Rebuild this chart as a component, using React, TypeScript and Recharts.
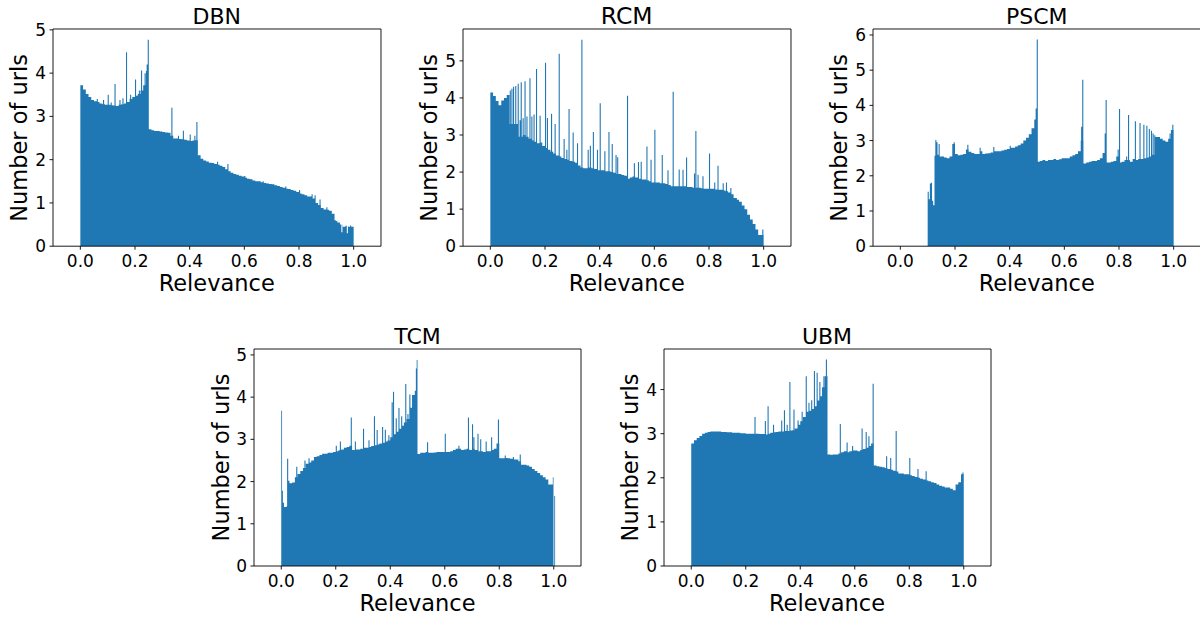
import React from 'react';
import { AreaChart, Area, XAxis, YAxis, ReferenceLine } from 'recharts';

const FONT = '"DejaVu Sans", sans-serif';
const BLUE = '#1f77b4';

const xTicks = [0, 0.2, 0.4, 0.6, 0.8, 1.0];
const titles = ['DBN', 'RCM', 'PSCM', 'TCM', 'UBM'];
const xLabel = 'Relevance';
const yLabel = 'Number of urls';

// Base histogram heights, bins of width 0.01 from 0.00 to 0.99
const dbnBase = [
  3.72, 3.62, 3.52, 3.45, 3.38, 3.35, 3.33, 3.30, 3.28, 3.27,
  3.27, 3.26, 3.25, 3.24, 3.27, 3.28, 3.30, 3.33, 3.40, 3.45,
  3.48, 3.52, 3.60, 3.72, 4.05, 2.70, 2.68, 2.66, 2.66, 2.65,
  2.64, 2.63, 2.62, 2.55, 2.49, 2.49, 2.48, 2.47, 2.46, 2.44,
  2.43, 2.44, 2.45, 2.10, 2.02, 1.98, 1.96, 1.93, 1.92, 1.90,
  1.88, 1.86, 1.83, 1.78, 1.73, 1.70, 1.67, 1.65, 1.63, 1.61,
  1.58, 1.56, 1.55, 1.52, 1.50, 1.50, 1.48, 1.46, 1.45, 1.44,
  1.43, 1.41, 1.39, 1.37, 1.35, 1.33, 1.32, 1.30, 1.28, 1.25,
  1.22, 1.20, 1.18, 1.15, 1.15, 1.10, 1.00, 0.95, 0.88, 0.85,
  0.84, 0.82, 0.75, 0.60, 0.55, 0.50, 0.45, 0.47, 0.45, 0.45,
];
const dbnSpikes = [
  [0.06, 3.4], [0.083, 3.38], [0.1, 3.5], [0.111, 3.32], [0.125, 3.75], [0.143, 3.38],
  [0.154, 3.42], [0.167, 4.48], [0.182, 3.5], [0.2, 3.85], [0.214, 3.6], [0.222, 4.06],
  [0.235, 4.0], [0.2425, 4.2], [0.2465, 4.77], [0.333, 3.2], [0.357, 2.55], [0.375, 2.67],
  [0.4, 2.58], [0.417, 2.55], [0.4245, 2.87], [0.5, 1.95], [0.538, 1.9], [0.6, 1.62],
  [0.667, 1.5], [0.75, 1.38], [0.8, 1.3], [0.846, 1.2], [0.857, 1.18], [0.875, 1.08],
  [0.9, 0.9], [0.935, 0.58], [0.955, 0.32], [0.975, 0.3], [0.987, 0.48],
];

const rcmBase = [
  4.15, 4.05, 3.92, 3.80, 3.93, 4.00, 4.08, 3.30, 3.30, 3.30,
  2.95, 2.95, 3.00, 2.95, 2.90, 2.85, 2.82, 2.78, 2.80, 2.70,
  2.65, 2.60, 2.55, 2.50, 2.45, 2.42, 2.38, 2.35, 2.33, 2.30,
  2.28, 2.25, 2.18, 2.12, 2.10, 2.10, 2.12, 2.10, 2.08, 2.05,
  2.05, 2.05, 2.02, 2.02, 2.00, 1.98, 1.95, 1.95, 1.92, 1.90,
  1.82, 1.85, 1.88, 1.85, 1.82, 1.80, 1.80, 1.78, 1.75, 1.72,
  1.72, 1.72, 1.70, 1.70, 1.68, 1.65, 1.62, 1.62, 1.62, 1.62,
  1.62, 1.62, 1.60, 1.60, 1.58, 1.58, 1.58, 1.56, 1.55, 1.55,
  1.55, 1.55, 1.53, 1.52, 1.52, 1.50, 1.48, 1.45, 1.40, 1.30,
  1.25, 1.20, 1.10, 1.00, 0.85, 0.72, 0.60, 0.45, 0.30, 0.30,
];
const rcmSpikes = [
  [0.071, 4.2], [0.077, 4.25], [0.083, 4.3], [0.091, 4.32], [0.1, 4.38], [0.111, 4.42],
  [0.125, 4.45], [0.143, 4.53], [0.167, 4.78], [0.2, 4.95], [0.25, 5.19], [0.333, 5.57],
  [0.107, 3.4], [0.118, 3.45], [0.132, 3.5], [0.15, 3.5], [0.158, 3.55], [0.18, 3.52],
  [0.207, 3.46], [0.222, 3.57], [0.235, 3.3], [0.268, 2.89], [0.278, 2.6], [0.286, 3.7],
  [0.301, 3.07], [0.317, 2.78], [0.356, 2.6], [0.364, 2.71], [0.375, 3.08], [0.39, 2.6],
  [0.4, 3.86], [0.417, 2.56], [0.432, 3.08], [0.444, 2.76], [0.458, 2.46], [0.464, 2.4],
  [0.5, 4.06], [0.525, 2.24], [0.54, 2.27], [0.55, 2.28], [0.571, 2.69], [0.586, 2.33],
  [0.6, 3.14], [0.627, 2.46], [0.648, 2.05], [0.667, 4.17], [0.689, 2.07], [0.703, 2.06],
  [0.716, 2.39], [0.745, 1.96], [0.75, 3.11], [0.758, 1.93], [0.776, 1.89], [0.8, 2.5],
  [0.819, 1.72], [0.831, 2.17], [0.85, 1.7], [0.862, 1.72], [0.878, 1.57], [0.898, 1.3],
  [0.995, 0.45],
];

const pscmBase = [
  0, 0, 0, 0, 0, 0, 0, 0, 0, 0,
  1.55, 1.70, 1.16, 2.60, 2.55, 2.55, 2.52, 2.50, 2.55, 2.90,
  2.62, 2.58, 2.60, 2.62, 2.75, 2.68, 2.65, 2.62, 2.62, 2.70,
  2.62, 2.63, 2.64, 2.66, 2.70, 2.70, 2.70, 2.72, 2.74, 2.76,
  2.80, 2.80, 2.83, 2.87, 2.92, 3.00, 3.08, 3.18, 3.35, 3.60,
  2.40, 2.42, 2.45, 2.42, 2.45, 2.45, 2.48, 2.45, 2.47, 2.50,
  2.50, 2.50, 2.55, 2.58, 2.62, 2.70, 3.00, 2.35, 2.38, 2.40,
  2.42, 2.42, 2.45, 2.50, 2.65, 2.38, 2.38, 2.40, 2.42, 2.55,
  2.38, 2.40, 2.45, 2.45, 2.40, 2.48, 2.45, 2.48, 2.48, 2.50,
  2.52, 2.55, 2.60, 3.10, 3.10, 3.05, 3.00, 2.97, 3.05, 3.30,
];
const pscmSpikes = [
  [0.104, 1.33, 0.004], [0.108, 1.78, 0.004], [0.112, 1.8, 0.004], [0.116, 1.29, 0.004],
  [0.125, 2.57, 0.003], [0.128, 3.02], [0.132, 2.95], [0.14, 2.9], [0.195, 2.95],
  [0.245, 2.88], [0.29, 2.8], [0.34, 2.82], [0.4, 2.85], [0.495, 3.91], [0.499, 5.87],
  [0.6615, 3.39], [0.6655, 4.73], [0.7475, 3.2], [0.751, 4.15], [0.795, 2.75], [0.8, 3.9],
  [0.826, 2.55], [0.833, 3.73], [0.858, 3.55], [0.875, 3.5], [0.889, 3.45], [0.9, 3.42],
  [0.909, 3.33], [0.917, 3.28], [0.923, 3.2], [0.929, 3.15], [0.985, 3.2], [0.995, 3.45],
];

const tcmBase = [
  1.50, 1.40, 1.42, 1.96, 1.98, 2.10, 2.18, 2.25, 2.32, 2.42,
  2.45, 2.50, 2.58, 2.60, 2.63, 2.66, 2.66, 2.68, 2.68, 2.70,
  2.72, 2.74, 2.76, 2.80, 2.82, 2.85, 2.75, 2.76, 2.76, 2.78,
  2.80, 2.80, 2.82, 2.84, 2.86, 2.88, 2.90, 2.92, 2.95, 2.97,
  3.05, 3.12, 3.18, 3.25, 3.32, 3.40, 3.48, 3.75, 4.05, 4.15,
  2.65, 2.68, 2.68, 2.70, 2.68, 2.68, 2.69, 2.70, 2.70, 2.70,
  2.70, 2.70, 2.72, 2.75, 2.78, 2.78, 2.75, 2.76, 2.78, 2.75,
  2.78, 2.75, 2.72, 2.72, 2.70, 2.72, 2.72, 2.75, 2.78, 2.90,
  2.55, 2.55, 2.56, 2.55, 2.54, 2.52, 2.52, 2.48, 2.40, 2.40,
  2.38, 2.35, 2.30, 2.25, 2.20, 2.15, 2.10, 2.05, 1.93, 1.93,
];
const tcmSpikes = [
  [0.0, 3.68, 0.003], [0.003, 1.78, 0.003], [0.006, 1.5, 0.004], [0.0215, 2.54], [0.0255, 2.02, 0.0045],
  [0.055, 2.35], [0.085, 2.5], [0.1, 2.55], [0.2, 2.85], [0.215, 2.95], [0.255, 3.52],
  [0.27, 2.95], [0.3, 3.25], [0.32, 2.98], [0.34, 3.55], [0.35, 3.22], [0.37, 3.29],
  [0.38, 3.23], [0.393, 3.1], [0.405, 3.88], [0.41, 4.13], [0.42, 3.5], [0.43, 3.74],
  [0.44, 3.55], [0.455, 4.31], [0.463, 3.6], [0.47, 4.06], [0.494, 4.68, 0.003],
  [0.497, 4.88, 0.003], [0.535, 2.93], [0.6, 3.13], [0.65, 2.85], [0.685, 3.52],
  [0.7, 3.36], [0.705, 3.05], [0.72, 3.13], [0.73, 3.0], [0.75, 2.95], [0.77, 3.05],
  [0.795, 3.47], [0.82, 2.62], [0.85, 2.58], [0.875, 2.64], [0.9965, 2.1, 0.0025],
  [0.999, 0, 0.003], [1.002, 1.66, 0.003],
];

const ubmBase = [
  2.78, 2.85, 2.90, 2.95, 3.00, 3.02, 3.04, 3.05, 3.05, 3.05,
  3.05, 3.04, 3.04, 3.03, 3.03, 3.02, 3.02, 3.02, 3.01, 3.01,
  3.00, 3.00, 3.00, 3.00, 3.00, 2.99, 2.99, 2.98, 3.00, 3.02,
  3.03, 3.04, 3.05, 3.05, 3.06, 3.06, 3.07, 3.08, 3.12, 3.20,
  3.28, 3.38, 3.50, 3.52, 3.56, 3.62, 3.75, 3.85, 4.05, 4.30,
  2.53, 2.52, 2.53, 2.53, 2.55, 2.58, 2.60, 2.58, 2.60, 2.62,
  2.62, 2.60, 2.63, 2.65, 2.68, 2.72, 2.78, 2.28, 2.26, 2.25,
  2.24, 2.22, 2.20, 2.18, 2.16, 2.14, 2.10, 2.10, 2.08, 2.08,
  2.06, 2.04, 2.02, 2.00, 1.98, 1.96, 1.94, 1.92, 1.90, 1.88,
  1.85, 1.82, 1.80, 1.78, 1.78, 1.75, 1.72, 1.85, 1.90, 2.08,
];
const ubmSpikes = [
  [0.232, 3.38], [0.27, 3.29], [0.28, 3.62], [0.3, 3.2], [0.33, 3.3], [0.34, 3.53],
  [0.35, 3.2], [0.36, 4.17], [0.375, 3.55], [0.39, 3.3], [0.405, 3.5], [0.42, 4.3],
  [0.43, 3.7], [0.44, 3.76], [0.45, 4.42], [0.46, 4.38], [0.47, 4.17], [0.485, 4.3],
  [0.494, 4.68], [0.545, 3.22], [0.57, 2.8], [0.59, 2.72], [0.625, 3.12], [0.64, 3.04],
  [0.65, 2.94], [0.6655, 4.13], [0.715, 2.49], [0.73, 2.45], [0.75, 3.06], [0.8, 2.45],
  [0.83, 2.2], [0.86, 2.15], [0.995, 2.12],
];

const yMaxes = [5.02, 5.86, 6.17, 5.14, 4.92];
const yTickSets = [
  [0, 1, 2, 3, 4, 5],
  [0, 1, 2, 3, 4, 5],
  [0, 1, 2, 3, 4, 5, 6],
  [0, 1, 2, 3, 4, 5],
  [0, 1, 2, 3, 4],
];

type Pt = { x: number; y: number };

// Builds a step outline: base bins plus narrow spike bins that override them.
function buildSeries(base: number[], spikes: number[][]): Pt[] {
  const r = (v: number) => Math.round(v * 1e6) / 1e6;
  const baseAt = (x: number) => {
    const i = Math.floor(x * 100 + 1e-7);
    return i >= 0 && i < base.length ? base[i] : 0;
  };
  const sorted = [...spikes].sort((a, b) => a[0] - b[0]);
  const intervals = sorted.map((s, k) => {
    const w = s[2] !== undefined ? s[2] : 0.004;
    const x0 = r(s[0]);
    let x1 = r(s[0] + w);
    const next = sorted[k + 1];
    if (next && r(next[0]) < x1) x1 = r(next[0]);
    return { x0, x1, y: s[1] };
  });
  // edges where the value changes
  const edges = new Set<number>();
  for (let i = 0; i <= base.length; i++) edges.add(r(i / 100));
  intervals.forEach((iv) => {
    edges.add(iv.x0);
    edges.add(iv.x1);
  });
  const xs = Array.from(edges).sort((a, b) => a - b);
  const valueAt = (x: number) => {
    for (const iv of intervals) {
      if (x >= iv.x0 - 1e-9 && x < iv.x1 - 1e-9) return iv.y;
    }
    return baseAt(x);
  };
  const pts: Pt[] = xs.map((x) => ({ x, y: valueAt(x) }));
  const last = pts[pts.length - 1];
  if (last.y !== 0) pts.push({ x: r(last.x + 1e-6), y: 0 });
  return pts;
}

const series = [
  buildSeries(dbnBase, dbnSpikes),
  buildSeries(rcmBase, rcmSpikes),
  buildSeries(pscmBase, pscmSpikes),
  buildSeries(tcmBase, tcmSpikes),
  buildSeries(ubmBase, ubmSpikes),
];

// plot boxes: left, top, width, height
const boxes = [
  [52.7, 29.3, 328, 217.2],
  [462.7, 29.3, 328, 217.2],
  [872.7, 29.3, 328, 217.2],
  [254, 349, 327, 217],
  [663.5, 349, 327, 217],
];
const titleSizes = [22, 23.5, 22, 22, 22];

const ML = 60;
const MT = 10;

function Panel({ idx }: { idx: number }) {
  const [L, T, W, H] = boxes[idx];
  const ymax = yMaxes[idx];
  return (
    <div style={{ position: 'absolute', left: L - ML, top: T - MT }}>
      <AreaChart
        width={W + ML + 10}
        height={H + MT + 30}
        data={series[idx]}
        margin={{ top: MT, right: 10, left: 0, bottom: 0 }}
      >
        <XAxis
          type="number"
          dataKey="x"
          domain={[-0.1, 1.1]}
          allowDataOverflow
          ticks={xTicks}
          interval={0}
          tickFormatter={(v: number) => v.toFixed(1)}
          tick={{ fill: '#000', fontSize: 17, fontFamily: FONT }}
          tickLine={{ stroke: '#000', strokeWidth: 0.9 }}
          axisLine={{ stroke: '#000', strokeWidth: 0.9 }}
          tickSize={3.5}
          tickMargin={5}
          height={30}
        />
        <YAxis
          type="number"
          domain={[0, ymax]}
          allowDataOverflow
          ticks={yTickSets[idx]}
          interval={0}
          tick={{ fill: '#000', fontSize: 17, fontFamily: FONT }}
          tickLine={{ stroke: '#000', strokeWidth: 0.9 }}
          axisLine={{ stroke: '#000', strokeWidth: 0.9 }}
          tickSize={3.5}
          tickMargin={3.5}
          width={ML}
        />
        <Area
          type="stepAfter"
          dataKey="y"
          fill={BLUE}
          fillOpacity={1}
          stroke="none"
          dot={false}
          activeDot={false}
          isAnimationActive={false}
        />
        <ReferenceLine y={ymax} stroke="#000" strokeWidth={0.9} />
        <ReferenceLine x={1.1} stroke="#000" strokeWidth={0.9} />
      </AreaChart>
    </div>
  );
}

export default function App() {
  return (
    <div
      style={{
        position: 'absolute',
        left: 0,
        top: 0,
        width: 1200,
        height: 619,
        overflow: 'hidden',
        background: '#fff',
      }}
    >
      {titles.map((_, i) => (
        <Panel key={i} idx={i} />
      ))}
      <svg
        width={1200}
        height={619}
        style={{ position: 'absolute', left: 0, top: 0, pointerEvents: 'none' }}
      >
        {titles.map((t, i) => {
          const [L, T, W, H] = boxes[i];
          const cx = L + W / 2;
          const cy = T + H / 2;
          const titleY = T - 5.3;
          const xlY = T + H + 44.5;
          const ylX = L - 25.4;
          return (
            <g key={t} fontFamily={FONT} fill="#000">
              <text x={cx} y={titleY} textAnchor="middle" fontSize={titleSizes[i]}>
                {t}
              </text>
              <text x={cx} y={xlY} textAnchor="middle" fontSize={22.5}>
                {xLabel}
              </text>
              <text
                transform={`translate(${ylX},${cy}) rotate(-90)`}
                textAnchor="middle"
                fontSize={22.5}
              >
                {yLabel}
              </text>
            </g>
          );
        })}
      </svg>
    </div>
  );
}
